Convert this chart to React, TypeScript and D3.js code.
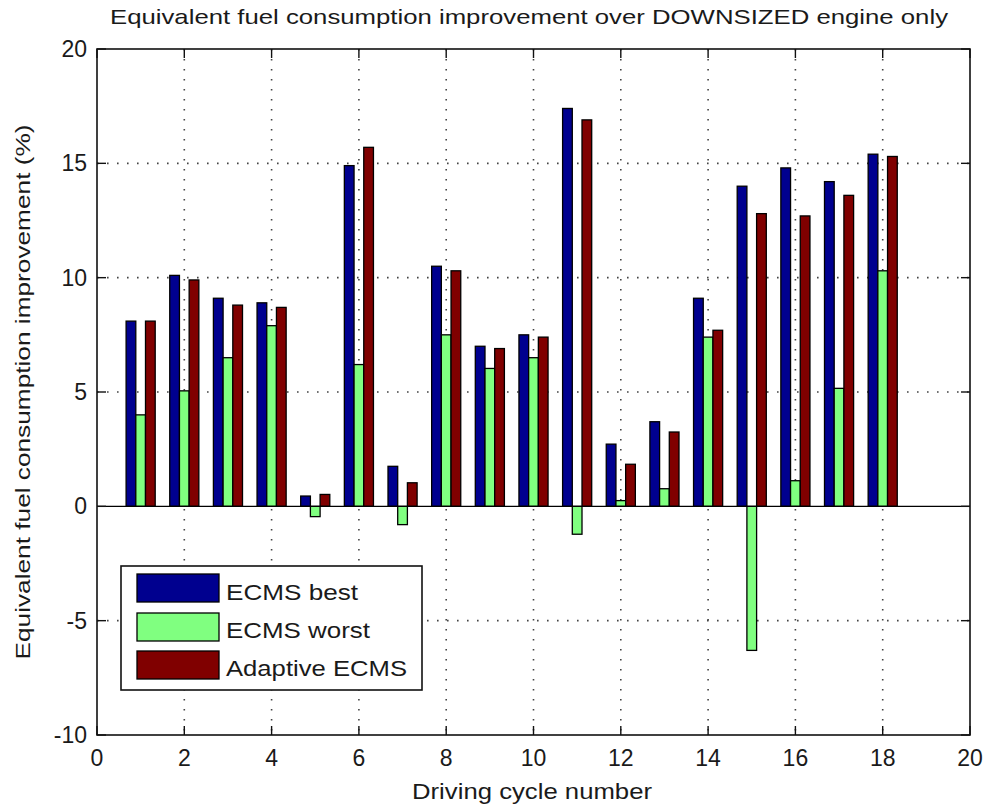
import React from 'react';
import * as d3 from 'd3';

const cycles = [1, 2, 3, 4, 5, 6, 7, 8, 9, 10, 11, 12, 13, 14, 15, 16, 17, 18];
const ecmsBest = [8.1, 10.1, 9.1, 8.9, 0.45, 14.9, 1.75, 10.5, 7.0, 7.5, 17.4, 2.72, 3.7, 9.1, 14.0, 14.8, 14.2, 15.4];
const ecmsWorst = [4.0, 5.05, 6.5, 7.9, -0.45, 6.2, -0.8, 7.5, 6.03, 6.5, -1.22, 0.25, 0.77, 7.4, -6.3, 1.12, 5.16, 10.3];
const adaptive = [8.1, 9.9, 8.8, 8.7, 0.52, 15.7, 1.03, 10.3, 6.9, 7.4, 16.9, 1.84, 3.25, 7.7, 12.8, 12.7, 13.6, 15.3];

const seriesNames = ['ECMS best', 'ECMS worst', 'Adaptive ECMS'];
const seriesColors = ['#00008f', '#80ff80', '#800000'];
const seriesValues = [ecmsBest, ecmsWorst, adaptive];

const xTicks = [0, 2, 4, 6, 8, 10, 12, 14, 16, 18, 20];
const yTicks = [-10, -5, 0, 5, 10, 15, 20];

const W = 985;
const H = 807;
const LEFT = 97;
const RIGHT = 970;
const TOP = 49;
const BOTTOM = 735;
const FONT = '"Liberation Sans", Arial, Helvetica, sans-serif';
const TXT = '#1a1a1a';

export default function App() {
  const x = d3.scaleLinear().domain([0, 20]).range([LEFT, RIGHT]);
  const y = d3.scaleLinear().domain([-10, 20]).range([BOTTOM, TOP]);

  // grouped bars: 3 series inside a 2/3 unit wide group, no gaps
  const groupW = 2 / 3;
  const inner = d3.scaleBand<number>().domain([0, 1, 2]).range([-groupW / 2, groupW / 2]).paddingInner(0);

  const legendLeg = { x: 121, y: 566, w: 301, h: 124 };
  const legendRows = [
    { top: 574, base: 600, tw: 132 },
    { top: 613, base: 638, tw: 144 },
    { top: 651, base: 676, tw: 181 },
  ];

  return (
    <svg
      width={W}
      height={H}
      style={{ position: 'absolute', left: 0, top: 0, background: '#fff' }}
      fontFamily={FONT}
    >
      <rect x={0} y={0} width={W} height={H} fill="#fff" />

      {/* Grid */}
      {xTicks.filter((t) => t > 0 && t < 20).map((t) => (
        <line key={'gx' + t} x1={x(t)} x2={x(t)} y1={TOP} y2={BOTTOM}
          stroke="#444" strokeWidth={1.6} strokeDasharray="1.6,8.4" />
      ))}
      {yTicks.filter((t) => t > -10 && t < 20 && t !== 0).map((t) => (
        <line key={'gy' + t} x1={LEFT} x2={RIGHT} y1={y(t)} y2={y(t)}
          stroke="#444" strokeWidth={1.6} strokeDasharray="1.6,8.4" />
      ))}

      {/* Bars */}
      {seriesValues.map((vals, k) =>
        vals.map((v, i) => {
          const x0 = x(cycles[i] + (inner(k) as number));
          const x1 = x(cycles[i] + (inner(k) as number) + inner.bandwidth());
          const y0 = y(Math.max(0, v));
          const y1 = y(Math.min(0, v));
          return (
            <rect key={k + '-' + i} x={x0} y={y0} width={x1 - x0} height={y1 - y0}
              fill={seriesColors[k]} stroke="#000" strokeWidth={1.3} />
          );
        })
      )}

      {/* Baseline at zero */}
      <line x1={LEFT} x2={RIGHT} y1={y(0)} y2={y(0)} stroke="#000" strokeWidth={1.3} />

      {/* Axes box and ticks */}
      <rect x={LEFT} y={TOP} width={RIGHT - LEFT} height={BOTTOM - TOP} fill="none" stroke="#111" strokeWidth={1.6} />
      {xTicks.map((t) => (
        <g key={'tx' + t}>
          <line x1={x(t)} x2={x(t)} y1={BOTTOM} y2={BOTTOM - 9} stroke="#111" strokeWidth={1.4} />
          <line x1={x(t)} x2={x(t)} y1={TOP} y2={TOP + 9} stroke="#111" strokeWidth={1.4} />
          <text x={x(t)} y={766} textAnchor="middle" fontSize={23} fill={TXT}>{t}</text>
        </g>
      ))}
      {yTicks.map((t) => (
        <g key={'ty' + t}>
          <line x1={LEFT} x2={LEFT + 9} y1={y(t)} y2={y(t)} stroke="#111" strokeWidth={1.4} />
          <line x1={RIGHT} x2={RIGHT - 9} y1={y(t)} y2={y(t)} stroke="#111" strokeWidth={1.4} />
          <text x={87} y={y(t) + 8} textAnchor="end" fontSize={23} fill={TXT}>{t}</text>
        </g>
      ))}

      {/* Legend */}
      <rect x={legendLeg.x} y={legendLeg.y} width={legendLeg.w} height={legendLeg.h}
        fill="#fff" stroke="#111" strokeWidth={1.6} />
      {legendRows.map((r, k) => (
        <g key={'lg' + k}>
          <rect x={137} y={r.top} width={82} height={28} fill={seriesColors[k]} stroke="#000" strokeWidth={1.3} />
          <text x={226} y={r.base} fontSize={22} fill={TXT} textLength={r.tw} lengthAdjust="spacingAndGlyphs">
            {seriesNames[k]}
          </text>
        </g>
      ))}

      {/* Titles */}
      <text x={110} y={24} fontSize={21} fill={TXT} textLength={838} lengthAdjust="spacingAndGlyphs">
        Equivalent fuel consumption improvement over DOWNSIZED engine only
      </text>
      <text x={412} y={799} fontSize={22} fill={TXT} textLength={240} lengthAdjust="spacingAndGlyphs">
        Driving cycle number
      </text>
      <text transform={`translate(30,${(TOP + BOTTOM) / 2}) rotate(-90)`} textAnchor="middle" fontSize={21}
        fill={TXT} textLength={535} lengthAdjust="spacingAndGlyphs">
        Equivalent fuel consumption improvement (%)
      </text>
    </svg>
  );
}
